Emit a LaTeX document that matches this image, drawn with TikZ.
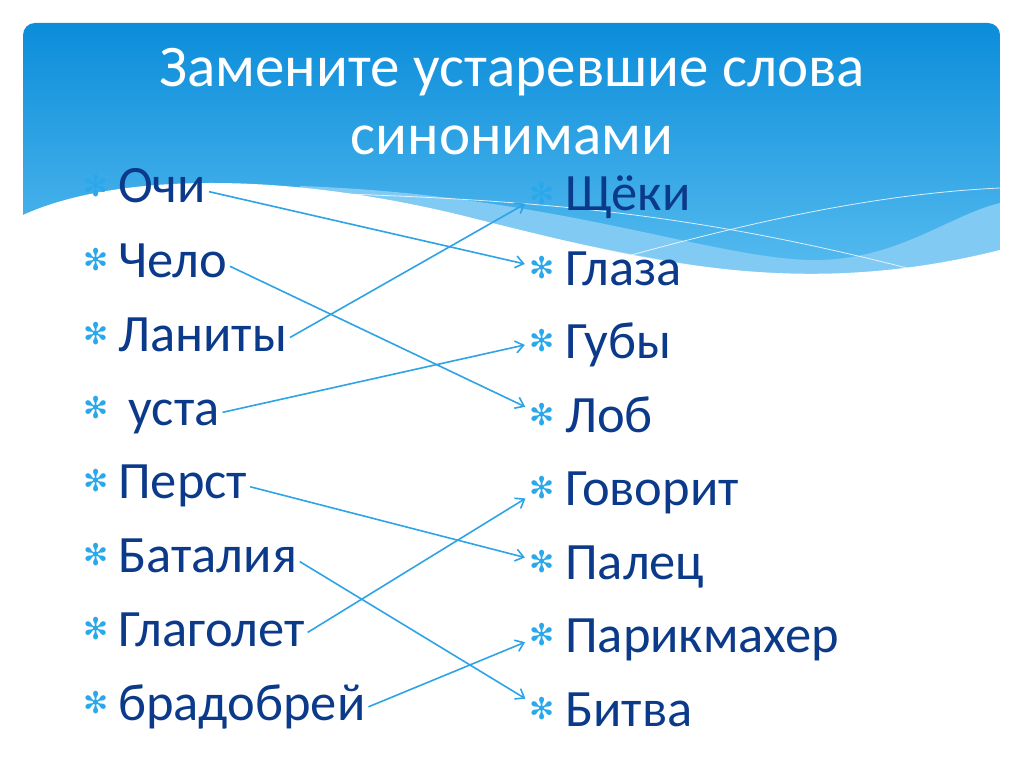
\documentclass[tikz,border=0pt]{standalone}
\usepackage{fontspec}
\setmainfont{Carlito}
\newfontfamily\bulfont{DejaVu Sans}
\usetikzlibrary{arrows.meta}
\definecolor{itemblue}{HTML}{0C3A8A}
\definecolor{linkblue}{HTML}{2EA3E6}
\definecolor{bulblue}{HTML}{2AA8EC}
\definecolor{headtop}{HTML}{0B8DDA}
\definecolor{headbot}{HTML}{5EC0F1}
\tikzstyle{title} = [inner sep=0pt, anchor=base, text=white, font=\fontsize{59}{68}\selectfont]
\tikzstyle{word} = [inner sep=0pt, anchor=base west, text=itemblue, text height=34pt, text depth=10pt, font=\fontsize{52.5}{60}\selectfont]
\tikzstyle{bul} = [inner sep=0pt, text=bulblue, font=\bulfont\fontsize{30}{30}\selectfont]
\tikzstyle{arrow} = [linkblue, line width=1.6pt, -{Straight Barb[length=8pt,width=12pt]}, shorten <=3pt, shorten >=5pt]

\begin{document}
\begin{tikzpicture}[x=1pt, y=-1pt]
	\useasboundingbox (0,0) rectangle (1024,767);
	% header with waves
	\begin{scope}
		\clip[rounded corners=12pt] (23,23) rectangle (1000,420);
		\shade[top color=headtop, bottom color=headbot] (23,23) rectangle (1000,300);
		\fill[color={rgb,255:red,128;green,202;blue,244}] (300,186) .. controls (560,195) and (720,262) .. (820,260) .. controls (900,258) and (950,215) .. (1000,203) -- (1000,320) -- (300,320) -- cycle;
		\fill[color={rgb,255:red,172;green,221;blue,249}] (420,210) .. controls (600,248) and (700,272) .. (800,276) .. controls (880,280) and (950,265) .. (1000,250) -- (1000,320) -- (420,320) -- cycle;
		\draw[white, opacity=0.8, line width=0.8pt] (314,193) .. controls (550,200) and (700,215) .. (915,270);
		\draw[white, opacity=0.8, line width=0.8pt] (1000,188) .. controls (850,195) and (700,235) .. (560,275);
		\fill[white] (23,215) .. controls (110,175) and (280,168) .. (480,220) .. controls (650,262) and (800,300) .. (1000,250) -- (1000,420) -- (23,420) -- cycle;
	\end{scope}
	\node[title](t1) at (512,87){Замените устаревшие слова};
	\node[title](t2) at (512,155){синонимами};
	% left column
	\node[bul](b1) at (96.5,186){✻};
	\node[bul](b2) at (96.5,260){✻};
	\node[bul](b3) at (96.5,334){✻};
	\node[bul](b4) at (96.5,408){✻};
	\node[bul](b5) at (96.5,481){✻};
	\node[bul](b6) at (96.5,555){✻};
	\node[bul](b7) at (96.5,629){✻};
	\node[bul](b8) at (96.5,703){✻};
	\node[word](ochi) at (118,203){Очи};
	\node[word](chelo) at (118,277){Чело};
	\node[word](lanity) at (118,351){Ланиты};
	\node[word](usta) at (128,425){уста};
	\node[word](perst) at (118,498){Перст};
	\node[word](batalia) at (118,572){Баталия};
	\node[word](glagolet) at (118,646){Глаголет};
	\node[word](bradobrey) at (118,720){брадобрей};
	% right column
	\node[bul](scheki) at (542.5,194){✻};
	\node[bul](glaza) at (542.5,268){✻};
	\node[bul](guby) at (542.5,341){✻};
	\node[bul](lob) at (542.5,415){✻};
	\node[bul](govorit) at (542.5,488){✻};
	\node[bul](palets) at (542.5,562){✻};
	\node[bul](parik) at (542.5,635){✻};
	\node[bul](bitva) at (542.5,709){✻};
	\node[word](w1) at (565,211){Щёки};
	\node[word](w2) at (565,285){Глаза};
	\node[word](w3) at (565,358){Губы};
	\node[word](w4) at (565,432){Лоб};
	\node[word](w5) at (565,505){Говорит};
	\node[word](w6) at (565,579){Палец};
	\node[word](w7) at (565,652){Парикмахер};
	\node[word](w8) at (565,726){Битва};
	% matches
	\draw[arrow](ochi.east) -- (glaza);
	\draw[arrow](chelo.east) -- (lob);
	\draw[arrow](lanity.east) -- (scheki);
	\draw[arrow](usta.east) -- (guby);
	\draw[arrow](perst.east) -- (palets);
	\draw[arrow](batalia.east) -- (bitva);
	\draw[arrow](glagolet.east) -- (govorit);
	\draw[arrow](bradobrey.east) -- (parik);
\end{tikzpicture}
\end{document}
